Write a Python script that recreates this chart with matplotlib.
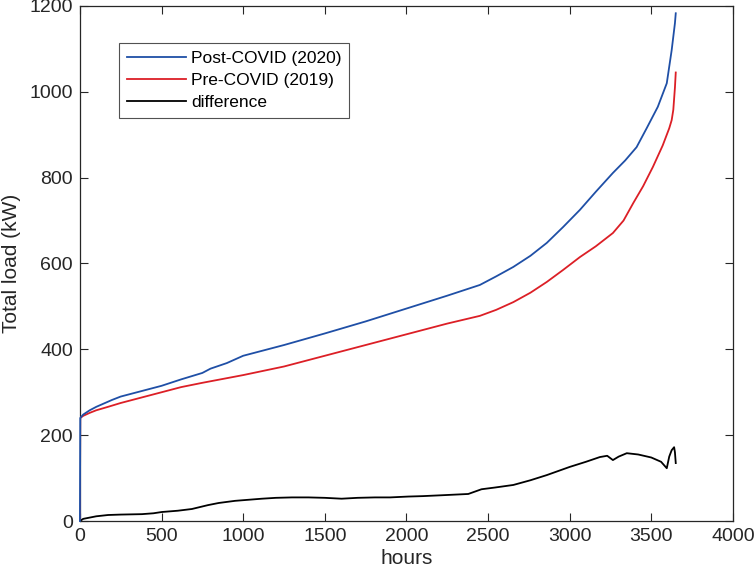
import numpy as np
import matplotlib.pyplot as plt

plt.rcParams['font.family'] = ['Liberation Sans', 'DejaVu Sans']

# Load duration curves
post_hours = [0, 2, 20, 60, 100, 172, 196, 250, 350, 500, 620, 750, 800, 900, 1000,
              1250, 1500, 1750, 2000, 2250, 2450, 2550, 2655, 2760, 2860, 2960, 3063,
              3160, 3265, 3340, 3410, 3473, 3540, 3595, 3625, 3645, 3650]
post_load = [0, 240, 248, 258, 266, 278, 282, 290, 300, 315, 330, 345, 355, 368, 385,
             410, 437, 465, 495, 525, 550, 570, 592, 618, 648, 685, 725,
             767, 811, 840, 871, 916, 965, 1020, 1097, 1160, 1183]

pre_hours = [0, 2, 20, 60, 100, 172, 250, 320, 400, 500, 620, 750, 1000,
             1250, 1500, 1750, 2000, 2250, 2450, 2550, 2655, 2760, 2860, 2960, 3063,
             3160, 3265, 3330, 3390, 3450, 3510, 3570, 3610, 3625, 3635, 3645, 3650]
pre_load = [0, 240, 245, 252, 258, 266, 275, 282, 290, 300, 312, 322, 340,
            360, 385, 410, 435, 460, 478, 492, 510, 532, 557, 585, 615,
            640, 671, 700, 741, 780, 825, 875, 915, 934, 958, 1010, 1045]

diff_hours = [0, 20, 60, 100, 172, 250, 380, 450, 502, 600, 686, 784, 850, 950, 1115,
              1200, 1299, 1400, 1501, 1603, 1700, 1807, 1900, 2011, 2100, 2215, 2379,
              2460, 2542, 2655, 2760, 2860, 3000, 3100, 3185, 3230, 3265, 3300,
              3350, 3420, 3500, 3560, 3595, 3610, 3625, 3640, 3645, 3650]
diff_load = [0, 5, 8, 11, 14, 15, 16, 18, 21, 24, 28, 37, 42, 47, 52,
             54, 55, 55, 54, 52, 54, 55, 55, 57, 58, 60, 63,
             74, 78, 84, 95, 107, 126, 138, 149, 152, 142, 150,
             158, 155, 148, 138, 123, 150, 165, 172, 160, 135]

fig = plt.figure(figsize=(7.54, 5.80), dpi=100)
ax = fig.add_axes([0.106, 0.1017, 0.866, 0.888])

ax.plot(post_hours, post_load, color='#1f4fa6', lw=1.3, label='Post-COVID (2020)',
        clip_on=False, zorder=4)
ax.plot(pre_hours, pre_load, color='#dc1f26', lw=1.3, label='Pre-COVID (2019)', zorder=3)
ax.plot(diff_hours, diff_load, color='black', lw=1.3, label='difference', zorder=3)

ax.set_xlim(0, 4000)
ax.set_ylim(0, 1200)
ax.set_xticks(np.arange(0, 4001, 500))
ax.set_yticks(np.arange(0, 1201, 200))
ax.tick_params(direction='in', top=True, right=True, labelsize=14, pad=5,
               length=6, width=0.8, colors='#262626', labelcolor='#262626')
for s in ax.spines.values():
    s.set_color('#262626')
    s.set_linewidth(0.9)
    s.set_zorder(2)

ax.set_xlabel('hours', fontsize=15, color='#262626', labelpad=3)
ax.set_ylabel('Total load (kW)', fontsize=15, color='#262626', labelpad=6)

leg = ax.legend(loc='upper left', bbox_to_anchor=(0.06, 0.928), borderaxespad=0,
                fontsize=12.5, handlelength=3.4, handletextpad=0.3, borderpad=0.45,
                labelspacing=0.4, frameon=True, fancybox=False)
leg.get_frame().set_edgecolor('#262626')
leg.get_frame().set_linewidth(0.8)

plt.savefig('out.png', dpi=100)
